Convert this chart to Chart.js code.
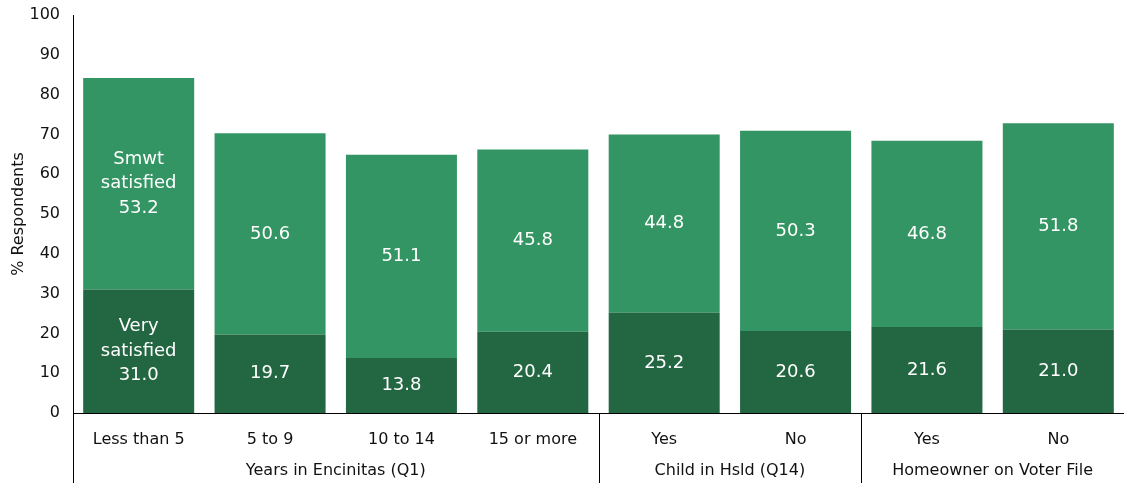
<!DOCTYPE html>
<html lang="en">
<head>
  <meta charset="utf-8" />
  <title>Satisfaction by subgroup</title>
  <script src="https://cdn.jsdelivr.net/npm/chart.js@4.4.0/dist/chart.umd.min.js"></script>
  <style>
    html, body { margin: 0; padding: 0; background: #ffffff; }
    #wrap { width: 1124px; height: 483px; }
  </style>
</head>
<body>
  <div id="wrap"><canvas id="chart"></canvas></div>

  <script>
    // categories and groups
    const categories = ["Less than 5", "5 to 9", "10 to 14", "15 or more", "Yes", "No", "Yes", "No"];
    const groups = [
      { label: "Years in Encinitas (Q1)", from: 0, to: 4 },
      { label: "Child in Hsld (Q14)", from: 4, to: 6 },
      { label: "Homeowner on Voter File", from: 6, to: 8 }
    ];
    // series values
    const verySatisfied = [31.0, 19.7, 13.8, 20.4, 25.2, 20.6, 21.6, 21.0];
    const smwtSatisfied = [53.2, 50.6, 51.1, 45.8, 44.8, 50.3, 46.8, 51.8];
    const yTicks = [0, 10, 20, 30, 40, 50, 60, 70, 80, 90, 100];

    const FONT = "'DejaVu Sans', Verdana, sans-serif";

    // writes the values (and series name on the first bar) inside each segment
    const barText = {
      id: "barText",
      afterDatasetsDraw(chart) {
        const ctx = chart.ctx;
        ctx.save();
        ctx.fillStyle = "#ffffff";
        ctx.font = "18px " + FONT;
        ctx.textAlign = "center";
        ctx.textBaseline = "middle";
        chart.data.datasets.forEach((ds, di) => {
          chart.getDatasetMeta(di).data.forEach((bar, i) => {
            const cy = (bar.y + bar.base) / 2;
            const val = ds.data[i].toFixed(1);
            if (i === 0) {
              const lines = ds.label.split(" ").concat([val]);
              lines.forEach((t, k) => ctx.fillText(t, bar.x, cy + (k - 1) * 24.5));
            } else {
              ctx.fillText(val, bar.x, cy);
            }
          });
        });
        ctx.restore();
      }
    };

    // group labels and separators under the x axis
    const groupAxis = {
      id: "groupAxis",
      afterDraw(chart) {
        const ctx = chart.ctx;
        const area = chart.chartArea;
        const step = (area.right - area.left) / categories.length;
        ctx.save();
        ctx.strokeStyle = "#000000";
        ctx.lineWidth = 1;
        ctx.fillStyle = "#111111";
        ctx.font = "16px " + FONT;
        ctx.textAlign = "center";
        ctx.textBaseline = "middle";
        groups.forEach(g => {
          const left = area.left + g.from * step;
          const right = area.left + g.to * step;
          ctx.beginPath();
          ctx.moveTo(Math.round(left) + 0.5, area.bottom);
          ctx.lineTo(Math.round(left) + 0.5, chart.height);
          ctx.stroke();
          ctx.fillText(g.label, (left + right) / 2, area.bottom + 58);
        });
        ctx.restore();
      }
    };

    new Chart(document.getElementById("chart"), {
      type: "bar",
      plugins: [barText, groupAxis],
      data: {
        labels: categories,
        datasets: [
          { label: "Very satisfied", data: verySatisfied, backgroundColor: "#236642", borderWidth: 0, barPercentage: 0.845, categoryPercentage: 1 },
          { label: "Smwt satisfied", data: smwtSatisfied, backgroundColor: "#339563", borderWidth: 0, barPercentage: 0.845, categoryPercentage: 1 }
        ]
      },
      options: {
        responsive: true,
        maintainAspectRatio: false,
        animation: false,
        layout: { padding: { top: 15, right: 0, left: 0, bottom: 0 } },
        plugins: {
          legend: { display: false },
          tooltip: { enabled: false }
        },
        scales: {
          x: {
            stacked: true,
            grid: { display: false },
            border: { display: true, color: "#000000", width: 1 },
            ticks: { color: "#111111", font: { family: FONT, size: 16 }, padding: 9, maxRotation: 0 },
            afterFit(scale) { scale.height = 70; scale.paddingLeft = 0; scale.paddingRight = 0; }
          },
          y: {
            stacked: true,
            min: 0,
            max: 100,
            afterBuildTicks(scale) { scale.ticks = yTicks.map(v => ({ value: v })); },
            grid: { display: false, drawTicks: false },
            border: { display: true, color: "#000000", width: 1 },
            ticks: { color: "#111111", font: { family: FONT, size: 16 }, padding: 13 },
            title: { display: true, text: "% Respondents", color: "#111111", font: { family: FONT, size: 16 }, padding: { top: 9, bottom: 0 } },
            afterFit(scale) { scale.width = 73; scale.paddingTop = 0; scale.paddingBottom = 0; }
          }
        }
      }
    });
  </script>
</body>
</html>
